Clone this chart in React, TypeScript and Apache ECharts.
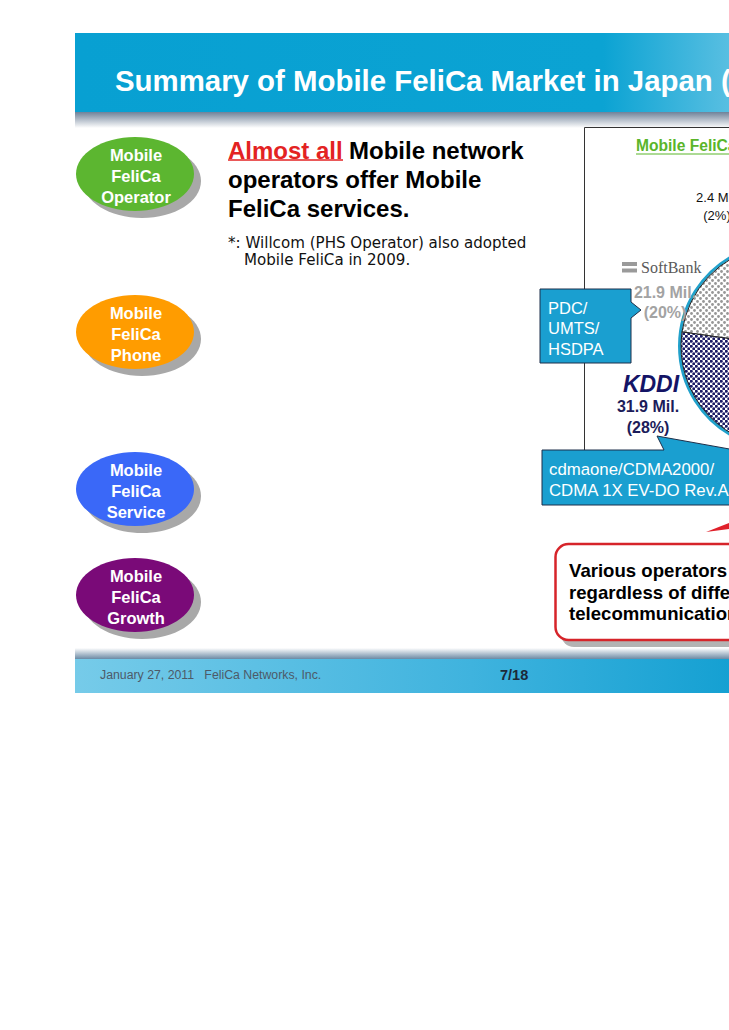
import React, { useEffect, useRef } from "react";
import * as echarts from "echarts";

// ---- data ----
const operators = ["SoftBank", "EMOBILE", "NTT DoCoMo", "KDDI"];
const subscribersMil = [21.9, 2.4, 55.8, 31.9];
const bubbleLabels = [
  "Mobile\nFeliCa\nOperator",
  "Mobile\nFeliCa\nPhone",
  "Mobile\nFeliCa\nService",
  "Mobile\nFeliCa\nGrowth",
];
const bubbleColors = ["#5cb630", "#ff9c00", "#3a68f8", "#7a0a78"];
const titleText = "Summary of Mobile FeliCa Market in Japan (";
const pieTitle = "Mobile FeliCa";
const headlineRed = "Almost all";
const headlineLines = ["Mobile network", "operators offer Mobile", "FeliCa services."];
const footnoteLines = ["*: Willcom (PHS Operator) also adopted", "Mobile FeliCa in 2009."];
const pdcLines = "PDC/\nUMTS/\nHSDPA";
const cdmaLines = "cdmaone/CDMA2000/\nCDMA 1X EV-DO Rev.A";
const calloutLines = "Various operators\nregardless of different\ntelecommunication";
const footerLeft = "January 27, 2011   FeliCa Networks, Inc.";
const pageText = "7/18";

const FONT = "'Liberation Sans', Arial, Helvetica, sans-serif";

function dotPattern(size: number, dots: number[][], r: number, color: string) {
  const c = document.createElement("canvas");
  c.width = size;
  c.height = size;
  const ctx = c.getContext("2d")!;
  ctx.fillStyle = "#ffffff";
  ctx.fillRect(0, 0, size, size);
  ctx.fillStyle = color;
  dots.forEach(([x, y]) => {
    ctx.beginPath();
    ctx.arc(x, y, r, 0, Math.PI * 2);
    ctx.fill();
  });
  return { image: c, repeat: "repeat", imageWidth: size, imageHeight: size } as any;
}

export default function App() {
  const ref = useRef<HTMLDivElement>(null);
  useEffect(() => {
    if (!ref.current) return;
    const chart = echarts.init(ref.current, undefined, { renderer: "svg" });

    const greyDots = dotPattern(6, [[1.5, 1.5], [4.5, 4.5]], 1.4, "#979797");
    const navyDots = dotPattern(5, [[1.25, 1.25], [3.75, 3.75]], 1.5, "#1b1b66");
    const fills = [greyDots, "#ffffff", "#d0103a", navyDots];

    const labelStyles: any[] = [
      { color: "#a3a3a3", fontWeight: "bold", fontSize: 16, lineHeight: 20 },
      { color: "#111111", fontWeight: "normal", fontSize: 13, lineHeight: 18 },
      { show: false },
      { color: "#1c1c5a", fontWeight: "bold", fontSize: 16, lineHeight: 21 },
    ];
    const labelPos = [
      [665, 302],
      [717, 206],
      [880, 350],
      [648, 417],
    ];

    const gBubbles: any[] = [];
    const bubbleCY = [174, 332, 489, 595];
    bubbleLabels.forEach((t, i) => {
      gBubbles.push({
        type: "ellipse",
        z: 1,
        shape: { cx: 142, cy: bubbleCY[i] + 7, rx: 59, ry: 37 },
        style: { fill: "#a8a8a8" },
      });
      gBubbles.push({
        type: "ellipse",
        z: 2,
        shape: { cx: 135, cy: bubbleCY[i], rx: 59, ry: 37 },
        style: { fill: bubbleColors[i] },
      });
      gBubbles.push({
        type: "text",
        z: 3,
        x: 136,
        y: bubbleCY[i] + 2,
        style: {
          text: t,
          fill: "#ffffff",
          fontFamily: FONT,
          fontWeight: "bold",
          fontSize: 16.5,
          lineHeight: 21,
          align: "center",
          verticalAlign: "middle",
        },
      });
    });

    const option: any = {
      animation: false,
      backgroundColor: "#ffffff",
      series: [
        {
          type: "pie",
          center: [782, 346],
          radius: 101,
          startAngle: 172,
          clockwise: true,
          silent: true,
          avoidLabelOverlap: false,
          z: 5,
          itemStyle: { borderColor: "#222222", borderWidth: 1 },
          label: {
            show: true,
            fontFamily: FONT,
            formatter: (p: any) => `${p.value} Mil.\n(${Math.round(p.percent)}%)`,
          },
          labelLine: { show: false },
          labelLayout: (p: any) => ({
            x: labelPos[p.dataIndex][0],
            y: labelPos[p.dataIndex][1],
            align: "center",
            verticalAlign: "middle",
          }),
          data: operators.map((n, i) => ({
            name: n,
            value: subscribersMil[i],
            itemStyle: { color: fills[i] },
            label: labelStyles[i],
          })),
        },
      ],
      graphic: [
        // header
        {
          type: "rect",
          z: 0,
          shape: { x: 75, y: 33, width: 880, height: 79 },
          style: {
            fill: new echarts.graphic.LinearGradient(0, 0, 1, 0, [
              { offset: 0, color: "#08a0d2" },
              { offset: 0.6, color: "#0ba3d3" },
              { offset: 0.75, color: "#5cc0e2" },
              { offset: 1, color: "#b0e0f0" },
            ]),
          },
        },
        {
          type: "rect",
          z: 0,
          shape: { x: 75, y: 112, width: 880, height: 16 },
          style: {
            fill: new echarts.graphic.LinearGradient(0, 0, 0, 1, [
              { offset: 0, color: "#6f8299" },
              { offset: 1, color: "#ffffff" },
            ]),
          },
        },
        {
          type: "text",
          z: 3,
          x: 115,
          y: 80,
          style: {
            text: titleText,
            fill: "#ffffff",
            fontFamily: FONT,
            fontWeight: "bold",
            fontSize: 29.4,
            verticalAlign: "middle",
          },
        },
        // footer
        {
          type: "rect",
          z: 0,
          shape: { x: 75, y: 648, width: 880, height: 12 },
          style: {
            fill: new echarts.graphic.LinearGradient(0, 0, 0, 1, [
              { offset: 0, color: "#ffffff" },
              { offset: 1, color: "#5e7f9c" },
            ]),
          },
        },
        {
          type: "rect",
          z: 0,
          shape: { x: 75, y: 659, width: 880, height: 34 },
          style: {
            fill: new echarts.graphic.LinearGradient(0, 0, 1, 0, [
              { offset: 0, color: "#76cbe9" },
              { offset: 0.45, color: "#3fb3de" },
              { offset: 0.75, color: "#14a0d2" },
              { offset: 1, color: "#1098cc" },
            ]),
          },
        },
        {
          type: "text",
          z: 3,
          x: 100,
          y: 675,
          style: {
            text: footerLeft,
            fill: "#4d5a68",
            fontFamily: FONT,
            fontSize: 12.3,
            verticalAlign: "middle",
          },
        },
        {
          type: "text",
          z: 3,
          x: 500,
          y: 675,
          style: {
            text: pageText,
            fill: "#1c2a3a",
            fontFamily: FONT,
            fontWeight: "bold",
            fontSize: 14.5,
            verticalAlign: "middle",
          },
        },
        ...gBubbles,
        // headline
        {
          type: "text",
          z: 3,
          x: 228,
          y: 150,
          style: {
            text: headlineRed,
            fill: "#e32222",
            fontFamily: FONT,
            fontWeight: "bold",
            fontSize: 24,
            verticalAlign: "middle",
          },
        },
        {
          type: "line",
          z: 3,
          shape: { x1: 228, y1: 160, x2: 343, y2: 160 },
          style: { stroke: "#e32222", lineWidth: 1.5 },
        },
        {
          type: "text",
          z: 3,
          x: 349,
          y: 150,
          style: {
            text: headlineLines[0],
            fill: "#000000",
            fontFamily: FONT,
            fontWeight: "bold",
            fontSize: 24,
            verticalAlign: "middle",
          },
        },
        {
          type: "text",
          z: 3,
          x: 228,
          y: 179,
          style: {
            text: headlineLines[1],
            fill: "#000000",
            fontFamily: FONT,
            fontWeight: "bold",
            fontSize: 24,
            verticalAlign: "middle",
          },
        },
        {
          type: "text",
          z: 3,
          x: 228,
          y: 208,
          style: {
            text: headlineLines[2],
            fill: "#000000",
            fontFamily: FONT,
            fontWeight: "bold",
            fontSize: 24,
            verticalAlign: "middle",
          },
        },
        {
          type: "text",
          z: 3,
          x: 228,
          y: 243,
          style: {
            text: footnoteLines[0],
            fill: "#111111",
            fontFamily: "'DejaVu Sans', sans-serif",
            fontSize: 15.1,
            verticalAlign: "middle",
          },
        },
        {
          type: "text",
          z: 3,
          x: 244,
          y: 260,
          style: {
            text: footnoteLines[1],
            fill: "#111111",
            fontFamily: "'DejaVu Sans', sans-serif",
            fontSize: 15.1,
            verticalAlign: "middle",
          },
        },
        // chart frame
        {
          type: "rect",
          z: 1,
          shape: { x: 584.5, y: 127.5, width: 420, height: 372 },
          style: { fill: "none", stroke: "#333333", lineWidth: 1 },
        },
        {
          type: "text",
          z: 3,
          x: 636,
          y: 145,
          style: {
            text: pieTitle,
            fill: "#5ab52a",
            fontFamily: FONT,
            fontWeight: "bold",
            fontSize: 15.6,
            verticalAlign: "middle",
          },
        },
        {
          type: "line",
          z: 3,
          shape: { x1: 636, y1: 154, x2: 760, y2: 154 },
          style: { stroke: "#5ab52a", lineWidth: 1.2 },
        },
        // pie ring
        {
          type: "circle",
          z: 4,
          shape: { cx: 782, cy: 346, r: 102.5 },
          style: { fill: "none", stroke: "#21a1cb", lineWidth: 3 },
        },
        // SoftBank logo
        {
          type: "rect",
          z: 3,
          shape: { x: 622, y: 262, width: 15, height: 4 },
          style: { fill: "#9a9a9a" },
        },
        {
          type: "rect",
          z: 3,
          shape: { x: 622, y: 268.5, width: 15, height: 4 },
          style: { fill: "#9a9a9a" },
        },
        {
          type: "text",
          z: 3,
          x: 641,
          y: 267,
          style: {
            text: "SoftBank",
            fill: "#5a5a5a",
            fontFamily: "'Liberation Serif', 'Times New Roman', serif",
            fontSize: 16,
            verticalAlign: "middle",
          },
        },
        // KDDI logo
        {
          type: "text",
          z: 3,
          x: 651,
          y: 384,
          style: {
            text: "KDDI",
            fill: "#141466",
            fontFamily: FONT,
            fontWeight: "bold",
            fontStyle: "italic",
            fontSize: 23,
            align: "center",
            verticalAlign: "middle",
          },
        },
        // PDC callout
        {
          type: "polygon",
          z: 4,
          shape: {
            points: [
              [540, 289],
              [631, 289],
              [631, 302],
              [641, 310],
              [631, 318],
              [631, 363],
              [540, 363],
            ],
          },
          style: { fill: "#1a9fd0", stroke: "#1d2f4a", lineWidth: 1 },
        },
        {
          type: "text",
          z: 5,
          x: 548,
          y: 328,
          style: {
            text: pdcLines,
            fill: "#ffffff",
            fontFamily: FONT,
            fontSize: 16.5,
            lineHeight: 20.5,
            verticalAlign: "middle",
          },
        },
        // cdma callout
        {
          type: "polygon",
          z: 4,
          shape: {
            points: [
              [542, 450],
              [664, 450],
              [657, 436],
              [735, 450],
              [960, 450],
              [960, 505],
              [542, 505],
            ],
          },
          style: { fill: "#1a9fd0", stroke: "#1d2f4a", lineWidth: 1 },
        },
        {
          type: "text",
          z: 5,
          x: 549,
          y: 480,
          style: {
            text: cdmaLines,
            fill: "#ffffff",
            fontFamily: FONT,
            fontSize: 16.8,
            lineHeight: 20.5,
            verticalAlign: "middle",
          },
        },
        // red arrow tail
        {
          type: "polygon",
          z: 4,
          shape: {
            points: [
              [706, 532],
              [729, 523],
              [729, 529],
            ],
          },
          style: { fill: "#e0202a" },
        },
        // red callout
        {
          type: "rect",
          z: 3,
          shape: { x: 561, y: 550, width: 420, height: 97, r: 13 },
          style: { fill: "#b3b3b3" },
        },
        {
          type: "rect",
          z: 4,
          shape: { x: 555.5, y: 544, width: 420, height: 96, r: 13 },
          style: { fill: "#ffffff", stroke: "#d6242a", lineWidth: 2.5 },
        },
        {
          type: "text",
          z: 5,
          x: 569,
          y: 592,
          style: {
            text: calloutLines,
            fill: "#000000",
            fontFamily: FONT,
            fontWeight: "bold",
            fontSize: 18.6,
            lineHeight: 21.5,
            verticalAlign: "middle",
          },
        },
      ],
    };

    chart.setOption(option);
    return () => chart.dispose();
  }, []);

  return (
    <div
      ref={ref}
      style={{ position: "absolute", left: 0, top: 0, width: 729, height: 1030 }}
    />
  );
}
